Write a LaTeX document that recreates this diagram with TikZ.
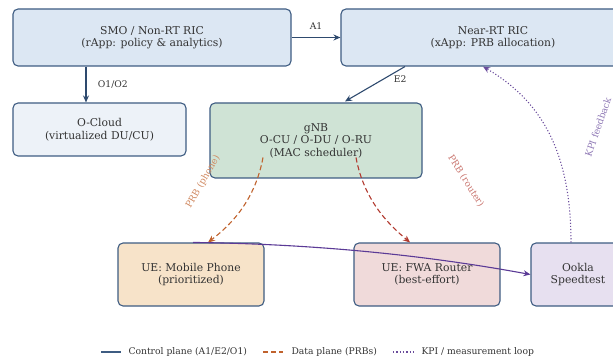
\documentclass[tikz,border=0pt]{standalone}
\usepackage{fontspec}
\setmainfont{DejaVu Serif}
\usetikzlibrary{arrows.meta}
\usetikzlibrary{calc}
\usepackage{xcolor}

\definecolor{boxline}{HTML}{3E5C82}
\definecolor{ctrlcol}{HTML}{2E4A6E}
\definecolor{ricfill}{HTML}{DCE7F3}
\definecolor{cloudfill}{HTML}{EDF2F8}
\definecolor{gnbfill}{HTML}{CFE3D5}
\definecolor{phonefill}{HTML}{F7E3C9}
\definecolor{routerfill}{HTML}{F0DADA}
\definecolor{ooklafill}{HTML}{E7E0F0}
\definecolor{phonecol}{HTML}{C0622D}
\definecolor{routercol}{HTML}{B23A30}
\definecolor{kpicol}{HTML}{6A4C9C}
\definecolor{loopcol}{HTML}{5B3A96}
\definecolor{txtcol}{HTML}{333333}

\begin{document}
\begin{tikzpicture}[x=1pt,y=-1pt,
    box/.style={draw=boxline,line width=1.1pt,rounded corners=5pt,align=center,
      text=txtcol,font=\fontsize{10.8}{12.5}\selectfont,inner sep=0pt},
    ctrl/.style={ctrlcol,line width=1.1pt,-{Stealth[length=7pt,width=6pt]}},
    data/.style={dash pattern=on 5pt off 3pt,line width=1.1pt,-{Stealth[length=7pt,width=6pt]}},
    kpi/.style={kpicol,dotted,line width=1.1pt,-{Stealth[length=7pt,width=6pt]}},
    lbl/.style={font=\fontsize{9.2}{11}\selectfont,text=txtcol}]
      \useasboundingbox (0,0) rectangle (613,358);
      \clip (0,0) rectangle (613,358);

      % Boxes
      \node[box,fill=ricfill,minimum width=278,minimum height=57] (smo) at (152,37.5)
        {SMO / Non-RT RIC\\(rApp: policy \& analytics)};
      \node[box,fill=ricfill,minimum width=304,minimum height=57] (nearrt) at (493,37.5)
        {Near-RT RIC\\(xApp: PRB allocation)};
      \node[box,fill=cloudfill,minimum width=173,minimum height=53] (ocloud) at (99.5,129.5)
        {O-Cloud\\(virtualized DU/CU)};
      \node[box,fill=gnbfill,minimum width=212,minimum height=75] (gnb) at (316,140.5)
        {gNB\\O-CU / O-DU / O-RU\\(MAC scheduler)};
      \node[box,fill=phonefill,minimum width=146,minimum height=63] (phone) at (191,274.5)
        {UE: Mobile Phone\\(prioritized)};
      \node[box,fill=routerfill,minimum width=146,minimum height=63] (router) at (427,274.5)
        {UE: FWA Router\\(best-effort)};
      \node[box,fill=ooklafill,minimum width=94,minimum height=63] (ookla) at (578,274.5)
        {Ookla\\Speedtest};

      % Control plane
      \draw[ctrl] (smo.east) -- (nearrt.west) node[lbl,midway,above=4pt] {A1};
      \draw[ctrl] (smo.south -| 86,0) -- (ocloud.north -| 86,0)
        node[lbl,midway,right=8pt] {O1/O2};
      \draw[ctrl] (nearrt.south -| 405,0) -- ($(gnb.north -| 345,0)+(0,-1)$)
        node[lbl,pos=0.35,right=6pt] {E2};

      % Data plane
      \coordinate (phonesrc) at ($(gnb.south)+(-53,-21)$);
      \coordinate (routersrc) at ($(gnb.south)+(40,-21)$);
      \draw[data,phonecol] (phonesrc) .. controls (255,200) and (232,224) .. (phone.north -| 208,0);
      \draw[data,routercol] (routersrc) .. controls (364,200) and (388,224) .. (router.north -| 410,0);
      \node[lbl,text=phonecol!75,rotate=60] (prbphone) at (203,182) {PRB (phone)};
      \node[lbl,text=routercol!70,rotate=-58] (prbrouter) at (466,181) {PRB (router)};

      % Measurement loop
      \draw[loopcol,line width=1.1pt,-{Stealth[length=7pt,width=6pt]}]
        (phone.north -| 193,0) .. controls (320,244) and (430,256) .. (ookla.west);
      \draw[kpi] (ookla.north -| 571,0) .. controls (571,150) and (540,100) .. (nearrt.south -| 483,0);
      \node[lbl,text=kpicol!75,rotate=71] (kpilbl) at (598,127) {KPI feedback};

      % Legend
      \draw[boxline,line width=1.3pt] (101,352) -- (121,352);
      \node[lbl,anchor=west] (legctrl) at (125,352) {Control plane (A1/E2/O1)};
      \draw[phonecol,dash pattern=on 5pt off 3pt,line width=1.3pt] (263,352) -- (283,352);
      \node[lbl,anchor=west] (legdata) at (288,352) {Data plane (PRBs)};
      \draw[kpicol,dotted,line width=1.3pt] (393,352) -- (413,352);
      \node[lbl,anchor=west] (legkpi) at (418,352) {KPI / measurement loop};
  \end{tikzpicture}
\end{document}
